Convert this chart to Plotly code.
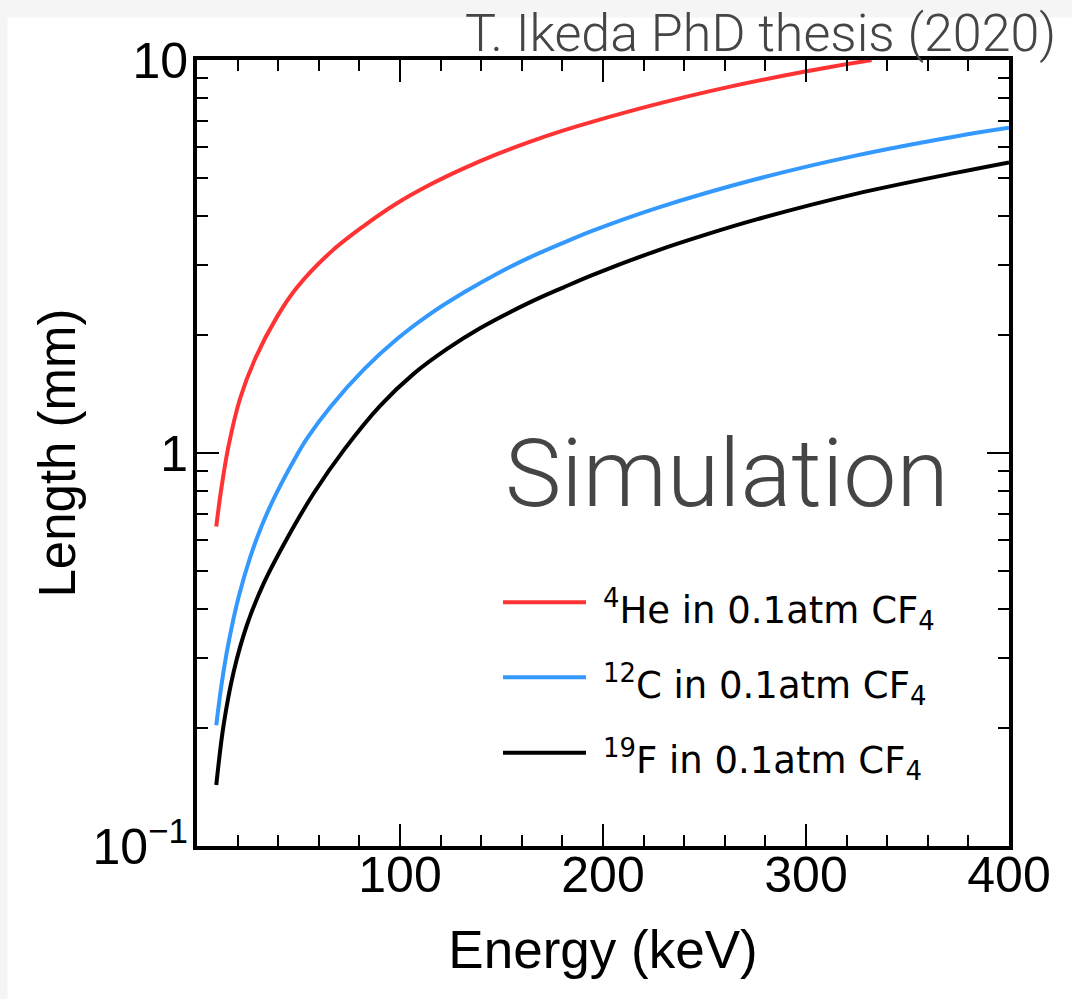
import plotly.graph_objects as go

# ---------------- data ----------------
he_energy = [9.5, 11.8, 15.5, 21.3, 28.7, 39.4, 49.3, 65.7, 82.1, 98.5, 114.9,
             131.4, 147.8, 164.2, 180.6, 195.0, 226.4, 259.3, 300.3, 332.3]
he_length = [0.65, 0.80, 1.04, 1.38, 1.74, 2.22, 2.64, 3.24, 3.78, 4.32, 4.82,
             5.30, 5.76, 6.20, 6.62, 6.97, 7.72, 8.48, 9.36, 10.0]

c_energy = [9.5, 12.3, 15.6, 20.5, 26.3, 32.0, 38.6, 49.3, 54.2, 65.7, 82.1,
            98.5, 114.9, 131.4, 147.8, 164.2, 180.6, 195.0, 226.4, 275.7,
            325.0, 374.3, 400.0]
c_length = [0.203, 0.262, 0.330, 0.430, 0.545, 0.655, 0.780, 0.99, 1.09, 1.31,
            1.63, 1.95, 2.26, 2.56, 2.86, 3.15, 3.43, 3.68, 4.20, 4.98, 5.72,
            6.40, 6.72]

f_energy = [9.5, 13.1, 18.1, 24.6, 32.8, 44.3, 57.5, 72.5, 90.3, 106.7, 123.2,
            139.6, 164.2, 180.6, 195.0, 226.4, 251.0, 275.7, 325.0, 374.3, 400.0]
f_length = [0.143, 0.203, 0.278, 0.365, 0.465, 0.605, 0.79, 1.02, 1.32, 1.59,
            1.84, 2.08, 2.42, 2.64, 2.84, 3.27, 3.60, 3.93, 4.57, 5.17, 5.49]

series_names = ["<sup>4</sup>He in 0.1atm CF<sub>4</sub>",
                "<sup>12</sup>C in 0.1atm CF<sub>4</sub>",
                "<sup>19</sup>F in 0.1atm CF<sub>4</sub>"]
series_colors = ["#ff3333", "#3399ff", "#000000"]

x_tickvals = [100, 200, 300, 400]
y_tickvals = [0.1, 1, 10]
y_ticktext = ["10<sup>\u22121</sup>", "1", "10"]
y_minor = [0.2, 0.3, 0.4, 0.5, 0.6, 0.7, 0.8, 0.9, 2, 3, 4, 5, 6, 7, 8, 9]

# ---------------- layout geometry ----------------
W, H = 1072, 999
L, R, T, B = 197, 63, 60, 153
PW, PH = W - L - R, H - T - B


def px_x(px):
    return (px - L) / PW


def px_y(py):
    return (H - B - py) / PH


FONT = "Liberation Sans, Arial, sans-serif"
LIGHT = "Roboto, Liberation Sans, sans-serif"

fig = go.Figure()
for xs, ys, name, col in zip([he_energy, c_energy, f_energy],
                             [he_length, c_length, f_length],
                             series_names, series_colors):
    fig.add_trace(go.Scatter(x=xs, y=ys, mode="lines", name=name,
                             line=dict(color=col, width=4, shape="spline", smoothing=1.0),
                             showlegend=False))

shapes = [
    # light grey border strips of the picture
    dict(type="rect", xref="paper", yref="paper", x0=px_x(0), x1=px_x(W),
         y0=px_y(17.5), y1=px_y(0), fillcolor="#f5f5f5", line_width=0, layer="below"),
    dict(type="rect", xref="paper", yref="paper", x0=px_x(0), x1=px_x(7.5),
         y0=px_y(H), y1=px_y(0), fillcolor="#f5f5f5", line_width=0, layer="below"),
]
annotations = []
legend_rows = [602.3, 677.3, 752.7]
for name, col, ly in zip(series_names, series_colors, legend_rows):
    shapes.append(dict(type="line", xref="paper", yref="paper",
                       x0=px_x(503), x1=px_x(586), y0=px_y(ly), y1=px_y(ly),
                       line=dict(color=col, width=4)))
    annotations.append(dict(xref="paper", yref="paper", x=px_x(601), y=px_y(ly + 7),
                            xanchor="left", yanchor="middle", text=name, showarrow=False,
                            font=dict(family="DejaVu Sans, sans-serif", size=37, color="black")))

annotations.append(dict(xref="paper", yref="paper", x=px_x(727), y=px_y(473),
                        xanchor="center", yanchor="middle", text="Simulation", showarrow=False,
                        font=dict(family=LIGHT, size=95, color="#454545", weight=300)))
annotations.append(dict(xref="paper", yref="paper", x=px_x(1058), y=px_y(33),
                        xanchor="right", yanchor="middle", text="T. Ikeda PhD thesis (2020)",
                        showarrow=False,
                        font=dict(family=LIGHT, size=52, color="#454545", weight=300)))

axis_common = dict(showline=True, linewidth=4, linecolor="black", mirror="ticks",
                   ticks="inside", ticklen=22, tickwidth=2, tickcolor="black",
                   showgrid=False, zeroline=False,
                   tickfont=dict(family=FONT, size=50, color="black"))

fig.update_layout(
    width=W, height=H,
    margin=dict(l=L, r=R, t=T, b=B, pad=0),
    paper_bgcolor="white", plot_bgcolor="white",
    shapes=shapes, annotations=annotations,
    xaxis=dict(range=[0, 400], tickmode="array", tickvals=x_tickvals,
               ticklabelstandoff=-18,
               minor=dict(dtick=20, tick0=0, ticks="inside", ticklen=11, tickwidth=2,
                          tickcolor="black", showgrid=False),
               title=dict(text="Energy (keV)", font=dict(family=FONT, size=53, color="black"),
                          standoff=30),
               **axis_common),
    yaxis=dict(type="log", range=[-1, 1], tickmode="array", tickvals=y_tickvals,
               ticktext=y_ticktext, ticklabelstandoff=-5,
               minor=dict(tickmode="array", tickvals=y_minor, ticks="inside", ticklen=11,
                          tickwidth=2, tickcolor="black", showgrid=False),
               title=dict(text="Length (mm)", font=dict(family=FONT, size=51, color="black"),
                          standoff=2),
               **axis_common),
)

fig.write_html("out.html")
